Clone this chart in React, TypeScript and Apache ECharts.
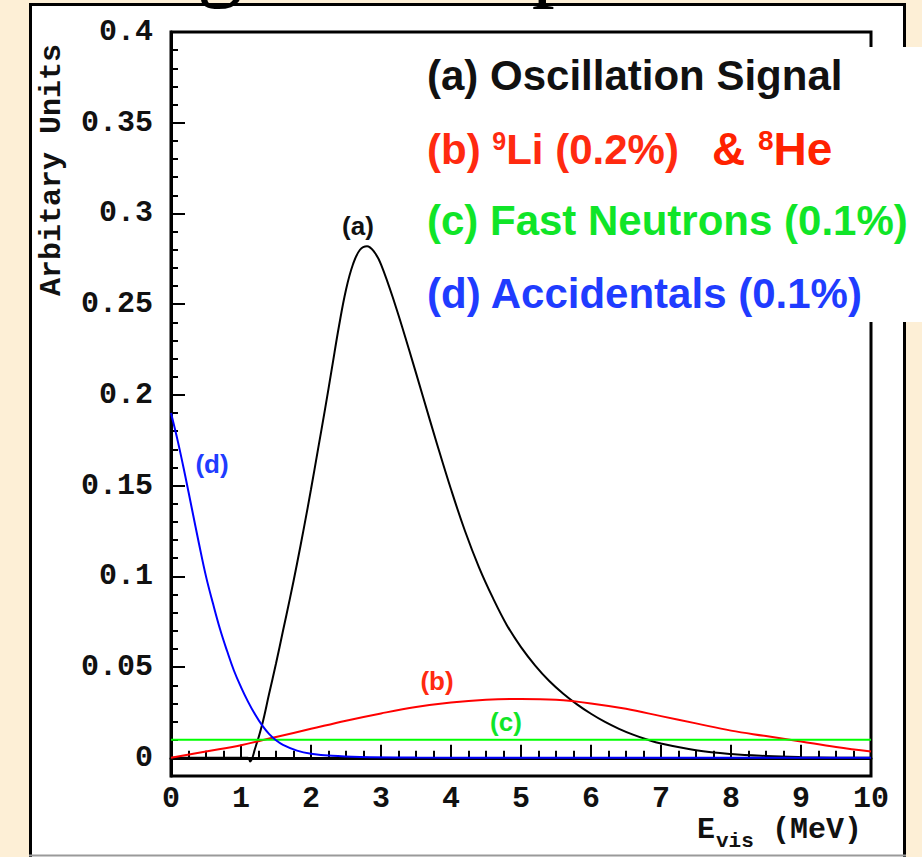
import React, { useEffect, useRef } from 'react';
import * as echarts from 'echarts';

// Visible energy (MeV) grid and spectrum shapes, in arbitrary units
const signalEnergy = [0, 1.1, 1.13, 1.2, 1.3, 1.4, 1.5, 1.6, 1.7, 1.8, 1.9, 2.0, 2.1, 2.2, 2.3, 2.4, 2.5, 2.6, 2.7, 2.8, 2.9, 3.0, 3.2, 3.4, 3.6, 3.8, 4.0, 4.2, 4.4, 4.6, 4.8, 5.0, 5.2, 5.4, 5.6, 5.8, 6.0, 6.2, 6.4, 6.6, 6.8, 7.0, 7.5, 8.0, 8.5, 9.0, 9.5, 10];
const signalValue = [0, 0, -0.002, 0.005, 0.018, 0.035, 0.052, 0.07, 0.088, 0.107, 0.127, 0.148, 0.17, 0.192, 0.215, 0.238, 0.258, 0.272, 0.28, 0.282, 0.279, 0.272, 0.25, 0.225, 0.199, 0.173, 0.148, 0.125, 0.105, 0.088, 0.073, 0.061, 0.051, 0.0425, 0.0355, 0.0295, 0.0243, 0.0198, 0.016, 0.0128, 0.0101, 0.0079, 0.0042, 0.0021, 0.001, 0.0004, 0.0001, 0];

const lithiumEnergy = [0, 0.5, 1, 1.5, 2, 2.5, 3, 3.5, 4, 4.5, 5, 5.5, 6, 6.5, 7, 7.5, 8, 8.5, 9, 9.5, 10];
const lithiumValue = [0, 0.0035, 0.007, 0.0115, 0.016, 0.0205, 0.0245, 0.028, 0.0305, 0.032, 0.0325, 0.032, 0.03, 0.027, 0.023, 0.019, 0.015, 0.012, 0.009, 0.006, 0.0035];

const neutronEnergy = [0, 10];
const neutronValue = [0.01, 0.01];

const accidentalEnergy = [0, 0.1, 0.2, 0.3, 0.4, 0.5, 0.6, 0.7, 0.8, 0.9, 1.0, 1.1, 1.2, 1.3, 1.4, 1.5, 1.6, 1.8, 2.0, 2.3, 2.7, 3.5, 5, 10];
const accidentalValue = [0.19, 0.174, 0.156, 0.137, 0.118, 0.1, 0.085, 0.071, 0.059, 0.048, 0.039, 0.031, 0.024, 0.018, 0.0132, 0.0097, 0.0072, 0.004, 0.0023, 0.0011, 0.0005, 0.0002, 0.0001, 0];

const yMajorTicks = [0, 0.05, 0.1, 0.15, 0.2, 0.25, 0.3, 0.35, 0.4];

const MONO = '"Liberation Mono", "DejaVu Sans Mono", monospace';
const SANS = '"Liberation Sans", Arial, sans-serif';
const SERIF = '"Liberation Serif", "DejaVu Serif", serif';

const RED = '#ff2a10';
const GREEN = '#10e528';
const BLUE = '#1f3cff';

const zip = (xs: number[], ys: number[]) => xs.map((x, i) => [x, ys[i]]);

const lineSeries = (name: string, xs: number[], ys: number[], color: string, z: number) => ({
  name,
  type: 'line',
  data: zip(xs, ys),
  showSymbol: false,
  smooth: 0.4,
  lineStyle: { color, width: 2 },
  z,
});

const labelText = (x: number, y: number, text: string, fill: string, size: number) => ({
  type: 'text',
  x,
  y,
  z: 10,
  style: { text, fill, fontFamily: SANS, fontWeight: 'bold', fontSize: size, align: 'center', verticalAlign: 'middle' },
});

const legendToken = (fill: string, size: number) => ({ fill, fontFamily: SANS, fontWeight: 'bold', fontSize: size });

export default function App() {
  const ref = useRef<HTMLDivElement>(null);

  useEffect(() => {
    const chart = echarts.init(ref.current!, null, { renderer: 'svg' });
    const tickStyle = { color: '#000', width: 2 };
    const monoLabel = { fontFamily: MONO, fontWeight: 'bold', fontSize: 30, color: '#111' };

    chart.setOption({
      animation: false,
      backgroundColor: '#fdefd6',
      grid: {
        left: 171,
        top: 32,
        width: 700,
        height: 744,
        show: true,
        borderColor: '#000',
        borderWidth: 3,
        containLabel: false,
        outerBoundsMode: 'none',
      },
      xAxis: {
        type: 'value',
        min: 0,
        max: 10,
        interval: 1,
        axisLine: { show: true, lineStyle: { color: '#000', width: 3 } },
        axisTick: { show: true, inside: true, length: 13, lineStyle: tickStyle },
        minorTick: { show: true, splitNumber: 4, length: 7, lineStyle: tickStyle },
        axisLabel: { ...monoLabel, margin: 8 },
        splitLine: { show: false },
        minorSplitLine: { show: false },
      },
      yAxis: [
        {
          type: 'value',
          min: -0.01,
          max: 0.4,
          interval: 0.01,
          position: 'left',
          axisLine: { show: true, lineStyle: { color: '#000', width: 3 } },
          axisTick: { show: true, inside: true, length: 7, lineStyle: tickStyle },
          axisLabel: {
            ...monoLabel,
            margin: 18,
            formatter: (v: number) => {
              const c = Math.round(v * 100);
              return c >= 0 && c % 5 === 0 ? String(c / 100) : '';
            },
          },
          splitLine: { show: false },
        },
        {
          type: 'value',
          min: -0.01,
          max: 0.4,
          interval: 0.01,
          position: 'left',
          axisLine: { show: false },
          axisTick: { show: true, inside: true, length: 14, lineStyle: tickStyle, customValues: yMajorTicks },
          axisLabel: { show: false },
          splitLine: { show: false },
        },
      ],
      series: [
        lineSeries('(a) Oscillation Signal', signalEnergy, signalValue, '#000', 2),
        lineSeries('(b) 9Li (0.2%)', lithiumEnergy, lithiumValue, '#ff0000', 3),
        lineSeries('(c) Fast Neutrons (0.1%)', neutronEnergy, neutronValue, '#00ff00', 4),
        lineSeries('(d) Accidentals (0.1%)', accidentalEnergy, accidentalValue, '#0000ff', 5),
      ],
      graphic: {
        elements: [
          // white panel behind the plot
          {
            type: 'rect',
            z: -1,
            shape: { x: 30.5, y: 4.5, width: 874, height: 900 },
            style: { fill: '#fff', stroke: '#000', lineWidth: 3 },
          },
          {
            type: 'line',
            z: 1,
            shape: { x1: 29, y1: 855.5, x2: 906, y2: 855.5 },
            style: { stroke: '#9a9a9a', lineWidth: 2 },
          },
          // slide heading running off the top edge
          {
            type: 'text',
            x: 8,
            y: -41,
            z: 30,
            style: { text: 'Background Spectra', fill: '#000', fontFamily: SERIF, fontSize: 92, align: 'left', verticalAlign: 'middle' },
          },
          // axis titles
          {
            type: 'text',
            x: 52,
            y: 170,
            rotation: Math.PI / 2,
            z: 10,
            style: { text: 'Arbitary Units', fill: '#111', fontFamily: MONO, fontWeight: 'bold', fontSize: 30, align: 'center', verticalAlign: 'middle' },
          },
          {
            type: 'text',
            x: 697,
            y: 830,
            z: 10,
            style: { text: 'E', fill: '#111', fontFamily: MONO, fontWeight: 'bold', fontSize: 30, align: 'left', verticalAlign: 'middle' },
          },
          {
            type: 'text',
            x: 716,
            y: 841,
            z: 10,
            style: { text: 'vis', fill: '#111', fontFamily: MONO, fontWeight: 'bold', fontSize: 21, align: 'left', verticalAlign: 'middle' },
          },
          {
            type: 'text',
            x: 772,
            y: 830,
            z: 10,
            style: { text: '(MeV)', fill: '#111', fontFamily: MONO, fontWeight: 'bold', fontSize: 30, align: 'left', verticalAlign: 'middle' },
          },
          // curve tags
          labelText(358, 226, '(a)', '#111', 26),
          labelText(212, 464, '(d)', BLUE, 26),
          labelText(437, 681, '(b)', RED, 26),
          labelText(506, 722, '(c)', GREEN, 26),
          // legend box
          {
            type: 'rect',
            z: 20,
            shape: { x: 412, y: 47, width: 520, height: 275 },
            style: { fill: '#fff' },
          },
          {
            type: 'text',
            x: 427,
            y: 75,
            z: 21,
            style: { text: '(a) Oscillation Signal', ...legendToken('#111', 42), align: 'left', verticalAlign: 'middle' },
          },
          {
            type: 'text',
            x: 427,
            y: 149,
            z: 21,
            style: {
              text: '{t|(b) }{s|9}{t|Li (0.2%)}',
              align: 'left',
              verticalAlign: 'middle',
              rich: {
                t: legendToken(RED, 42),
                s: { ...legendToken(RED, 25), verticalAlign: 'top', lineHeight: 18 },
              },
            },
          },
          {
            type: 'text',
            x: 712,
            y: 149,
            z: 21,
            style: {
              text: '{t|& }{s|8}{t|He}',
              align: 'left',
              verticalAlign: 'middle',
              rich: {
                t: legendToken('#ff2200', 46),
                s: { ...legendToken('#ff2200', 28), verticalAlign: 'top', lineHeight: 22 },
              },
            },
          },
          {
            type: 'text',
            x: 427,
            y: 220,
            z: 21,
            style: { text: '(c) Fast Neutrons (0.1%)', ...legendToken(GREEN, 42), align: 'left', verticalAlign: 'middle' },
          },
          {
            type: 'text',
            x: 427,
            y: 293,
            z: 21,
            style: { text: '(d) Accidentals (0.1%)', ...legendToken(BLUE, 42), align: 'left', verticalAlign: 'middle' },
          },
        ],
      },
    });

    return () => chart.dispose();
  }, []);

  return <div ref={ref} style={{ position: 'absolute', left: 0, top: 0, width: 922, height: 857 }} />;
}
